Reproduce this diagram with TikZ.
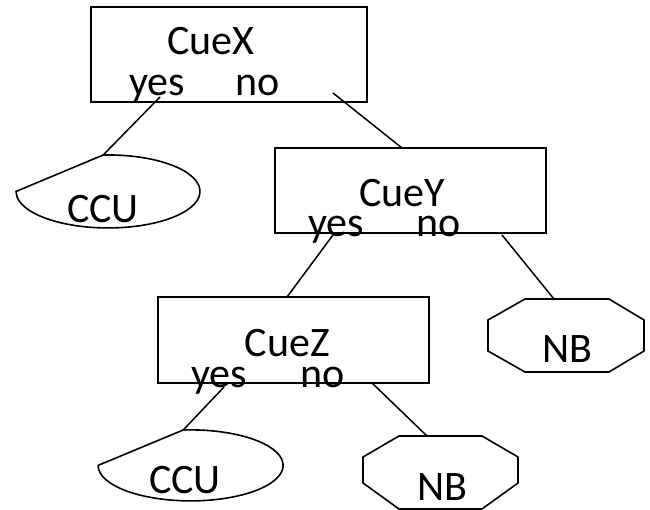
\documentclass[tikz,border=0pt]{standalone}
\usepackage{fontspec}
\setmainfont{Carlito}
\begin{document}
\begin{tikzpicture}[x=1pt,y=-1pt,
  box/.style={draw, line width=1.9pt, rectangle},
  shapeline/.style={draw, line width=1.6pt, line join=miter},
  conn/.style={draw, line width=1.5pt},
  lbl/.style={inner sep=0pt, anchor=base, font=\fontsize{42}{45}\selectfont}]
\useasboundingbox (0,0) rectangle (650,510);

% decision boxes
\draw[box] (91,7) rectangle (367,102);
\draw[box] (275,148) rectangle (546,233);
\draw[box] (158,297) rectangle (429,383);

% texts
\node[lbl] (tx) at (211,55) {CueX};
\node[lbl] (xyes) at (157,96) {yes};
\node[lbl] (xno) at (258,96) {no};
\node[lbl] (ty) at (402,207) {CueY};
\node[lbl] (yyes) at (336,237) {yes};
\node[lbl] (yno) at (439,237) {no};
\node[lbl] (tz) at (287.5,356) {CueZ};
\node[lbl] (zyes) at (219,387) {yes};
\node[lbl] (zno) at (322.5,387) {no};

% CCU leaves (teardrop-like)
\draw[shapeline] (103.2,155) arc[start angle=267, end angle=540, x radius=92, y radius=36.5] -- cycle;
\node[lbl] (ccu1) at (103,223) {CCU};
\draw[shapeline] (183.2,430) arc[start angle=265.4, end angle=540, x radius=92.5, y radius=35.5] -- cycle;
\node[lbl] (ccu2) at (185,493) {CCU};

% NB leaves (octagons)
\draw[shapeline] (525,299) -- (609,299) -- (644,320) -- (644,351) -- (609,372) -- (525,372) -- (488,351) -- (488,320) -- cycle;
\node[lbl] (nb1) at (567,362) {NB};
\draw[shapeline] (399,436) -- (482,436) -- (518,457) -- (518,483) -- (482,509) -- (399,509) -- (363,483) -- (363,457) -- cycle;
\node[lbl] (nb2) at (442.5,500) {NB};

% connector end points
\coordinate (xa) at (160,97);
\coordinate (ccu1top) at (103.2,155);
\coordinate (xb) at (333,93);
\coordinate (ytop) at (402,148);
\coordinate (ya) at (333,235);
\coordinate (ztop) at (287,297);
\coordinate (yb) at (502,235);
\coordinate (nb1top) at (554,299);
\coordinate (za) at (224,387);
\coordinate (ccu2top) at (183.2,430);
\coordinate (zb) at (372,383);
\coordinate (nb2top) at (427,436);

\draw[conn] (xa) -- (ccu1top);
\draw[conn] (xb) -- (ytop);
\draw[conn] (ya) -- (ztop);
\draw[conn] (yb) -- (nb1top);
\draw[conn] (za) -- (ccu2top);
\draw[conn] (zb) -- (nb2top);
\end{tikzpicture}
\end{document}
